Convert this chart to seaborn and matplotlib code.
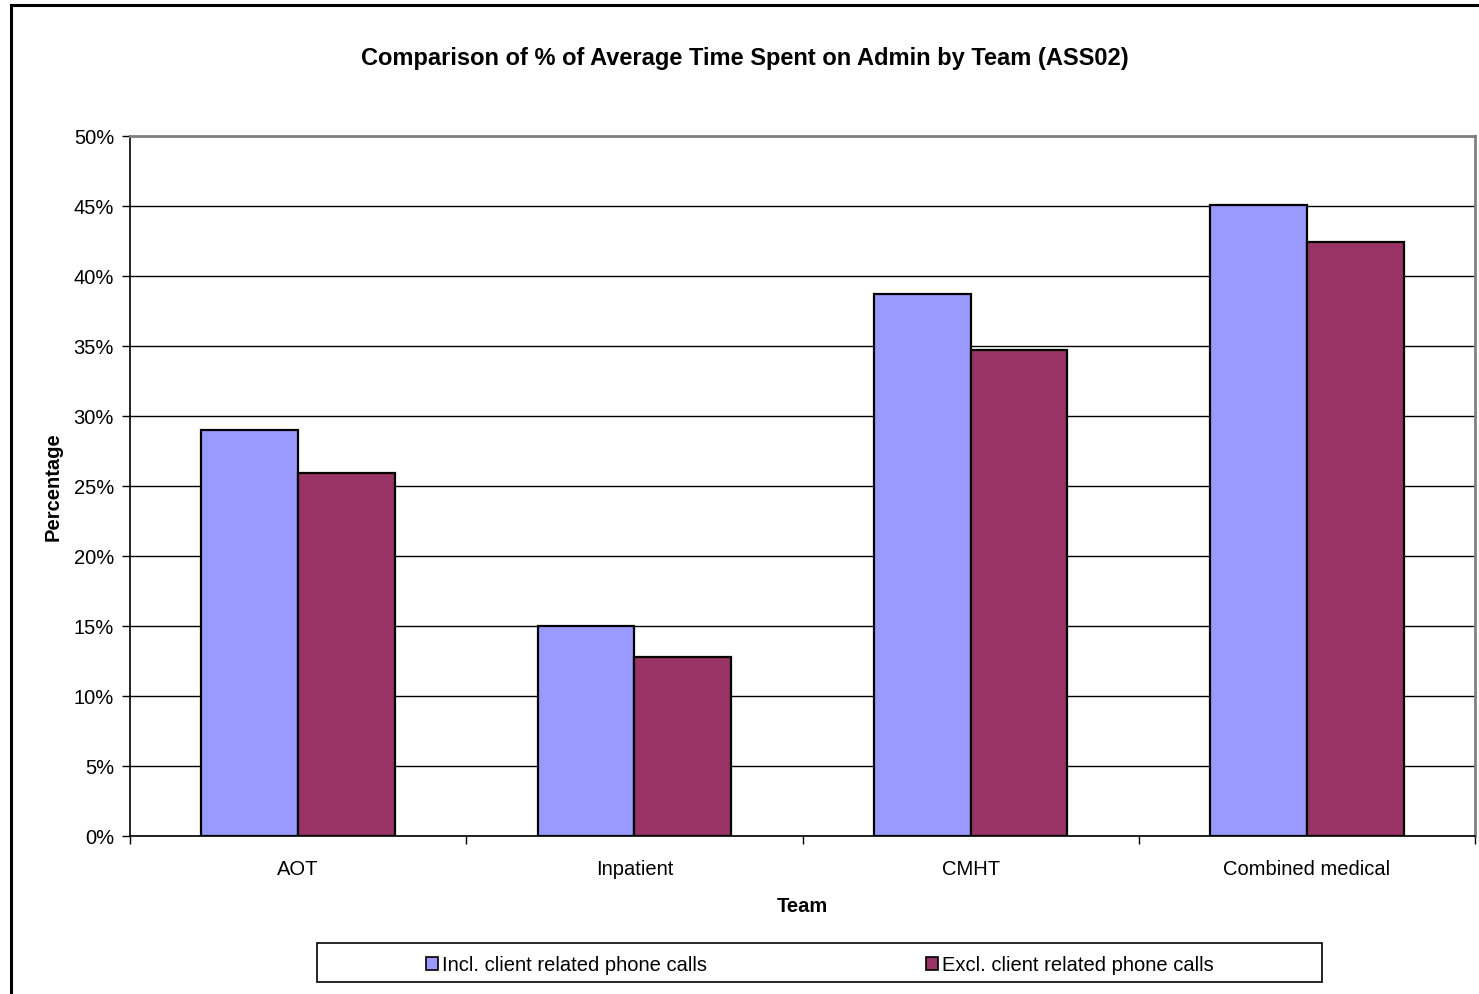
import matplotlib
matplotlib.use("Agg")
import matplotlib.pyplot as plt
import matplotlib.patches as mpatches
from matplotlib.ticker import FuncFormatter, FixedLocator, MultipleLocator
import seaborn as sns
import pandas as pd

teams = ["AOT", "Inpatient", "CMHT", "Combined medical"]
series_names = ["Incl. client related phone calls", "Excl. client related phone calls"]
incl_values = [29.0, 15.0, 38.7, 45.1]
excl_values = [25.9, 12.8, 34.7, 42.4]
colors = ["#9999FF", "#993366"]

df = pd.DataFrame({
    "Team": teams * 2,
    "Series": [series_names[0]] * len(teams) + [series_names[1]] * len(teams),
    "Value": incl_values + excl_values,
})

sns.set_theme(style="white")
plt.rcParams["font.family"] = ["Liberation Sans", "DejaVu Sans"]
plt.rcParams["text.color"] = "black"
plt.rcParams["axes.labelcolor"] = "black"
plt.rcParams["xtick.color"] = "black"
plt.rcParams["ytick.color"] = "black"

W, H = 1479, 995
fs = 14.5
fig = plt.figure(figsize=(W / 100, H / 100), dpi=100)
ax = fig.add_axes([130 / W, 1 - 837 / H, (1475 - 130) / W, (837 - 137) / H])

sns.barplot(data=df, x="Team", y="Value", hue="Series", hue_order=series_names,
            palette=colors, width=0.575, edgecolor="black", linewidth=1.6,
            saturation=1, ax=ax, legend=False, zorder=3)

ax.set_ylim(0, 50)
ax.set_xlim(-0.5, len(teams) - 0.5)
ax.yaxis.set_major_locator(MultipleLocator(5))
ax.yaxis.set_major_formatter(FuncFormatter(lambda v, p: f"{v:.0f}%"))
ax.grid(axis="y", color="black", linewidth=1.0, zorder=0)
ax.grid(axis="x", visible=False)
ax.set_axisbelow(True)

# category boundaries carry tick marks, labels sit between them
ax.xaxis.set_major_locator(FixedLocator([i - 0.5 for i in range(len(teams) + 1)]))
ax.xaxis.set_minor_locator(FixedLocator(list(range(len(teams)))))
ax.set_xticklabels([""] * (len(teams) + 1))
ax.set_xticklabels(teams, minor=True)
ax.tick_params(axis="x", which="major", direction="out", length=6, width=1, color="black",
               bottom=True)
ax.tick_params(axis="x", which="minor", length=0, pad=16.5, labelsize=fs, labelcolor="black")
ax.tick_params(axis="y", direction="out", length=6, width=1, color="black", left=True,
               labelsize=fs, labelcolor="black", pad=5.5)

for side in ["left", "bottom"]:
    ax.spines[side].set_color("black")
    ax.spines[side].set_linewidth(1.2)
for side in ["top", "right"]:
    ax.spines[side].set_color("#808080")
    ax.spines[side].set_linewidth(2)
    ax.spines[side].set_visible(True)

ax.set_xlabel("Team", fontsize=fs, fontweight="bold", va="center")
ax.set_ylabel("Percentage", fontsize=fs, fontweight="bold", va="center")
ax.xaxis.set_label_coords(0.5, (837 - 907) / 700)
ax.yaxis.set_label_coords((53 - 130) / 1345, 0.5)

fig.text(745 / W, 1 - 58 / H, "Comparison of % of Average Time Spent on Admin by Team (ASS02)",
         ha="center", va="center", fontsize=17, fontweight="bold", color="black")

# legend content and its surrounding box
handles = [mpatches.Patch(facecolor=c, edgecolor="black", linewidth=1.2) for c in colors]
fig.legend(handles, series_names, loc="center", bbox_to_anchor=(820 / W, 1 - 966 / H),
           ncol=2, frameon=False, fontsize=fs, handlelength=0.6, handleheight=0.6,
           handletextpad=0.2, columnspacing=10.9, labelcolor="black")
fig.patches.append(mpatches.Rectangle((317 / W, 1 - 983 / H), (1322 - 317) / W, (983 - 944) / H,
                                      transform=fig.transFigure, facecolor="none",
                                      edgecolor="black", linewidth=1.2))

# outer chart frame
fig.patches.append(mpatches.Rectangle((11 / W, -0.02), 1.05, 1 - 6 / H + 0.02,
                                      transform=fig.transFigure, facecolor="none",
                                      edgecolor="black", linewidth=2.2, clip_on=False))

fig.savefig("out.png", dpi=100)
